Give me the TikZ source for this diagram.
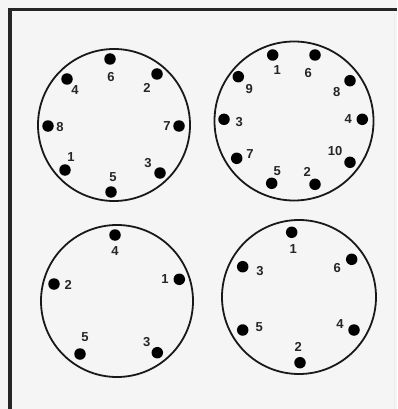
\documentclass[tikz,border=0pt]{standalone}
\usepackage{fontspec}
\setmainfont{Liberation Sans}
\begin{document}
\begin{tikzpicture}[x=1pt,y=-1pt,
  pin/.style={circle,fill=black,draw=none,inner sep=0pt,minimum size=11.5pt},
  num/.style={inner sep=0pt,text=black!85,font=\fontsize{13}{15}\selectfont\bfseries},
  ring/.style={draw=black!90,line width=1.8pt},
  frameline/.style={draw=black!85,line width=3.5pt}]
\useasboundingbox (0,0) rectangle (397,409);
\fill[black!4] (0,0) rectangle (397,409);
\draw[frameline] (10,8) -- (10,409);
\draw[frameline,line width=3pt] (8.25,9.5) -- (397,9.5);
\draw[black!7,line width=0.8pt] (394,14) -- (394,409);
% top-left
\draw[ring] (114,125) circle[radius=76pt];
\node[pin] (a6) at (110,59) {};   \node[num] (la6) at (111,77) {6};
\node[pin] (a2) at (157,74) {};   \node[num] (la2) at (147,88) {2};
\node[pin] (a7) at (179,126) {};  \node[num] (la7) at (167,126) {7};
\node[pin] (a3) at (160,173) {};  \node[num] (la3) at (148,163) {3};
\node[pin] (a5) at (111,192) {};  \node[num] (la5) at (113,177) {5};
\node[pin] (a1) at (65,170) {};   \node[num] (la1) at (71,157) {1};
\node[pin] (a8) at (48,126) {};   \node[num] (la8) at (60,127) {8};
\node[pin] (a4) at (67,79) {};    \node[num] (la4) at (75,90) {4};
% top-right
\draw[ring] (294,121) circle[radius=79.5pt];
\node[pin] (b1) at (272.7,55) {};    \node[num] (lb1) at (277.3,70) {1};
\node[pin] (b6) at (315,55) {};      \node[num] (lb6) at (308.3,72.7) {6};
\node[pin] (b8) at (350,80.7) {};    \node[num] (lb8) at (336.7,91.7) {8};
\node[pin] (b4) at (362.3,119.3) {}; \node[num] (lb4) at (348.3,119.3) {4};
\node[pin] (b10) at (350,162.3) {};  \node[num] (lb10) at (335,151) {10};
\node[pin] (b2) at (315,184.3) {};   \node[num] (lb2) at (307.3,171.7) {2};
\node[pin] (b5) at (271.7,183.3) {}; \node[num] (lb5) at (277.3,170.7) {5};
\node[pin] (b7) at (236.7,158.3) {}; \node[num] (lb7) at (250,154.3) {7};
\node[pin] (b3) at (224,119.3) {};   \node[num] (lb3) at (239.3,121.7) {3};
\node[pin] (b9) at (238.3,76.7) {};  \node[num] (lb9) at (249.3,89.3) {9};
% bottom-left
\draw[ring] (117,301) circle[radius=76pt];
\node[pin] (c4) at (115,235) {};     \node[num] (lc4) at (115,250.7) {4};
\node[pin] (c1) at (179.3,279.3) {}; \node[num] (lc1) at (165,279.3) {1};
\node[pin] (c3) at (157.3,352.7) {}; \node[num] (lc3) at (146.7,341.7) {3};
\node[pin] (c5) at (80,354) {};      \node[num] (lc5) at (85,336.7) {5};
\node[pin] (c2) at (54,284) {};      \node[num] (lc2) at (68.3,285) {2};
% bottom-right
\draw[ring] (299,297) circle[radius=77pt];
\node[pin] (d1) at (291.7,232.3) {}; \node[num] (ld1) at (293.3,249.3) {1};
\node[pin] (d6) at (351.7,259.3) {}; \node[num] (ld6) at (337.3,268.3) {6};
\node[pin] (d4) at (354,330) {};     \node[num] (ld4) at (340,324) {4};
\node[pin] (d2) at (300,362.7) {};   \node[num] (ld2) at (298.3,347.3) {2};
\node[pin] (d5) at (242.7,330) {};   \node[num] (ld5) at (259.3,327.3) {5};
\node[pin] (d3) at (242.7,266.7) {}; \node[num] (ld3) at (260,270.7) {3};
\end{tikzpicture}
\end{document}
